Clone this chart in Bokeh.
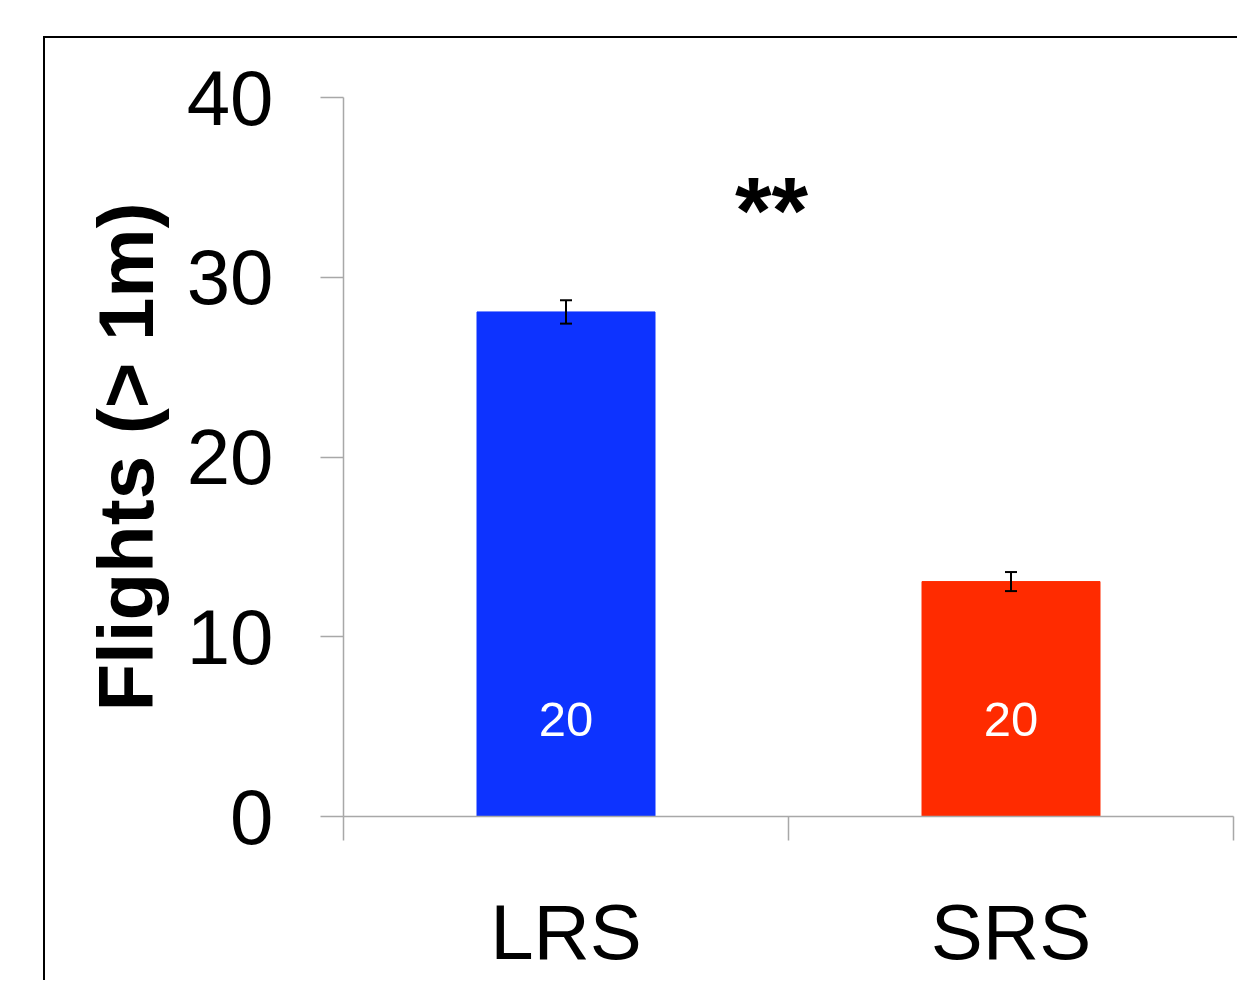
from bokeh.plotting import figure
from bokeh.models import ColumnDataSource, FixedTicker, Whisker, TeeHead, Range1d
from bokeh.embed import file_html
from bokeh.resources import INLINE
from bokeh.core.properties import value

# ---- data ----
categories = ["LRS", "SRS"]
means = [28.07, 13.07]
sems = [0.65, 0.53]
n_labels = ["20", "20"]
bar_colors = ["#0D33FF", "#FF2B00"]
y_ticks = [0, 10, 20, 30, 40]
signif_text = "**"

xpos = [i + 0.5 for i in range(len(categories))]
src = ColumnDataSource(dict(
    x=xpos, top=means,
    upper=[m + s for m, s in zip(means, sems)],
    lower=[m - s for m, s in zip(means, sems)],
    color=bar_colors, n=n_labels,
    ny=[5.4] * len(categories),
))

FONT = "Liberation Sans"

p = figure(width=1194, height=944, output_backend="svg", toolbar_location=None,
           x_range=Range1d(0, len(categories)), y_range=Range1d(0, 40),
           min_border_left=298, min_border_top=59, min_border_right=6,
           min_border_bottom=166)
p.margin = (36, 0, 0, 43)
p.styles = {"border-left": "2px solid black", "border-top": "2px solid black"}
p.outline_line_color = None
p.xgrid.grid_line_color = None
p.ygrid.grid_line_color = None
p.background_fill_color = "white"
p.border_fill_color = "white"

p.vbar(x="x", top="top", width=0.4, bottom=0, color="color", source=src)

w = Whisker(base="x", upper="upper", lower="lower", source=src,
            line_color="black", line_width=2, level="overlay",
            upper_head=TeeHead(size=12, line_width=2, line_color="black"),
            lower_head=TeeHead(size=12, line_width=2, line_color="black"))
p.add_layout(w)

p.text(x="x", y="ny", text="n", source=src, text_color="white",
       text_font=value(FONT), text_font_size="49px",
       text_align="center", text_baseline="middle")

p.text(x=[0.962], y=[33.7], text=[signif_text], text_color="black",
       text_font=value(FONT), text_font_size="94px", text_font_style="bold",
       text_align="center", text_baseline="alphabetic")

AX = "#a8a8a8"
# y axis
ya = p.yaxis[0]
ya.ticker = FixedTicker(ticks=y_ticks)
ya.axis_line_color = AX
ya.axis_line_width = 1.5
ya.major_tick_line_color = AX
ya.major_tick_line_width = 1.5
ya.major_tick_out = 23
ya.major_tick_in = 0
ya.minor_tick_line_color = None
ya.major_label_text_font = FONT
ya.major_label_text_font_size = "78px"
ya.major_label_text_color = "black"
ya.major_label_standoff = 47
ya.axis_label = "Flights (> 1m)"
ya.axis_label_text_font = FONT
ya.axis_label_text_font_size = "78px"
ya.axis_label_text_font_style = "bold"
ya.axis_label_text_color = "black"
ya.axis_label_standoff = 14

# x axis: labels at centres, tick marks at boundaries
xa = p.xaxis[0]
xa.ticker = FixedTicker(ticks=xpos, minor_ticks=list(range(len(categories) + 1)))
xa.major_label_overrides = {x: c for x, c in zip(xpos, categories)}
xa.axis_line_color = AX
xa.axis_line_width = 1.5
xa.major_tick_line_color = None
xa.major_tick_out = 0
xa.major_tick_in = 0
xa.minor_tick_line_color = AX
xa.minor_tick_line_width = 1.5
xa.minor_tick_out = 24
xa.minor_tick_in = 0
xa.major_label_text_font = FONT
xa.major_label_text_font_size = "78px"
xa.major_label_text_color = "black"
xa.major_label_standoff = 47

open("out.html", "w").write(file_html(p, INLINE))
